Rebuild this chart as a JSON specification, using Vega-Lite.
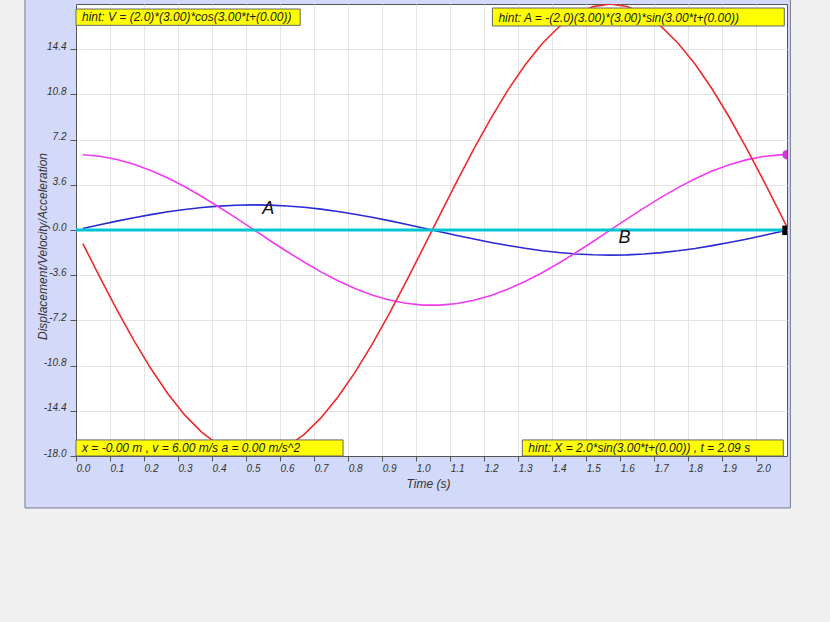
{
  "$schema": "https://vega.github.io/schema/vega-lite/v6.json",
  "width": 711,
  "height": 452,
  "autosize": {"type": "none"},
  "padding": {"left": 76, "top": 4, "right": 43, "bottom": 166},
  "background": "#d3d9f9",
  "config": {
    "view": {"fill": "#ffffff", "stroke": "#555555", "strokeWidth": 1},
    "font": "Liberation Sans",
    "axisX": {
      "grid": true, "gridColor": "#e4e4e4",
      "domainColor": "#555555", "tickColor": "#555555", "tickSize": 5,
      "labelAlign": "left", "labelDx": 3, "labelPadding": 2, "labelFlush": false, "labelOverlap": false,
      "labelFontSize": 10, "labelFontStyle": "italic", "labelColor": "#333333",
      "titleFontSize": 12, "titleFontWeight": "normal", "titleFontStyle": "italic", "titleColor": "#333333",
      "titleBaseline": "middle", "titleAlign": "center"
    },
    "axisY": {
      "grid": true, "gridColor": "#e4e4e4",
      "domainColor": "#555555", "tickColor": "#555555", "tickSize": 6,
      "labelPadding": 4, "labelBaseline": "alphabetic", "labelFlush": false, "labelOverlap": false,
      "labelFontSize": 10, "labelFontStyle": "italic", "labelColor": "#333333",
      "titleFontSize": 12, "titleFontWeight": "normal", "titleFontStyle": "italic", "titleColor": "#333333",
      "titleBaseline": "middle", "titleAlign": "center"
    }
  },
  "datasets": {
    "curve": [
      {"t": 0.02, "x": 0.120, "v": 5.989, "a": -1.079},
      {"t": 0.07, "x": 0.417, "v": 5.868, "a": -3.752},
      {"t": 0.12, "x": 0.705, "v": 5.615, "a": -6.341},
      {"t": 0.17, "x": 0.976, "v": 5.236, "a": -8.787},
      {"t": 0.22, "x": 1.226, "v": 4.740, "a": -11.036},
      {"t": 0.27, "x": 1.449, "v": 4.137, "a": -13.037},
      {"t": 0.32, "x": 1.638, "v": 3.441, "a": -14.745},
      {"t": 0.37, "x": 1.791, "v": 2.668, "a": -16.122},
      {"t": 0.42, "x": 1.904, "v": 1.835, "a": -17.138},
      {"t": 0.47, "x": 1.974, "v": 0.961, "a": -17.768},
      {"t": 0.52, "x": 2.000, "v": 0.065, "a": -17.999},
      {"t": 0.57, "x": 1.981, "v": -0.833, "a": -17.826},
      {"t": 0.62, "x": 1.917, "v": -1.711, "a": -17.252},
      {"t": 0.67, "x": 1.810, "v": -2.551, "a": -16.292},
      {"t": 0.72, "x": 1.663, "v": -3.334, "a": -14.965},
      {"t": 0.77, "x": 1.478, "v": -4.042, "a": -13.303},
      {"t": 0.82, "x": 1.260, "v": -4.659, "a": -11.340},
      {"t": 0.87, "x": 1.014, "v": -5.172, "a": -9.123},
      {"t": 0.92, "x": 0.744, "v": -5.569, "a": -6.696},
      {"t": 0.97, "x": 0.459, "v": -5.840, "a": -4.128},
      {"t": 1.02, "x": 0.163, "v": -5.980, "a": -1.467},
      {"t": 1.07, "x": -0.137, "v": -5.986, "a": 1.230},
      {"t": 1.12, "x": -0.433, "v": -5.857, "a": 3.900},
      {"t": 1.17, "x": -0.720, "v": -5.597, "a": 6.483},
      {"t": 1.22, "x": -0.991, "v": -5.212, "a": 8.918},
      {"t": 1.27, "x": -1.240, "v": -4.708, "a": 11.157},
      {"t": 1.32, "x": -1.460, "v": -4.101, "a": 13.141},
      {"t": 1.37, "x": -1.648, "v": -3.400, "a": 14.831},
      {"t": 1.42, "x": -1.798, "v": -2.625, "a": 16.186},
      {"t": 1.47, "x": -1.909, "v": -1.788, "a": 17.183},
      {"t": 1.52, "x": -1.977, "v": -0.913, "a": 17.791},
      {"t": 1.57, "x": -2.000, "v": -0.014, "a": 18.000},
      {"t": 1.62, "x": -1.978, "v": 0.885, "a": 17.803},
      {"t": 1.67, "x": -1.912, "v": 1.760, "a": 17.208},
      {"t": 1.72, "x": -1.803, "v": 2.600, "a": 16.223},
      {"t": 1.77, "x": -1.653, "v": 3.377, "a": 14.878},
      {"t": 1.82, "x": -1.467, "v": 4.080, "a": 13.199},
      {"t": 1.87, "x": -1.247, "v": 4.690, "a": 11.226},
      {"t": 1.92, "x": -1.000, "v": 5.196, "a": 9.000},
      {"t": 1.97, "x": -0.730, "v": 5.586, "a": 6.570},
      {"t": 2.02, "x": -0.444, "v": 5.850, "a": 3.995},
      {"t": 2.07, "x": -0.146, "v": 5.984, "a": 1.316},
      {"t": 2.09, "x": -0.026, "v": 5.999, "a": 0.237}
    ],
    "notes": [
      {"note": "hint: V = (2.0)*(3.00)*cos(3.00*t+(0.00))", "t1": 0, "t2": 0.659, "v1": 16.3, "v2": 17.6},
      {"note": "hint: A = -(2.0)(3.00)*(3.00)*sin(3.00*t+(0.00))", "t1": 1.224, "t2": 2.082, "v1": 16.25, "v2": 17.68},
      {"note": "x = -0.00 m , v = 6.00 m/s a = 0.00 m/s^2", "t1": 0, "t2": 0.785, "v1": -18, "v2": -16.72},
      {"note": "hint: X = 2.0*sin(3.00*t+(0.00)) , t = 2.09 s", "t1": 1.312, "t2": 2.079, "v1": -18, "v2": -16.72}
    ],
    "labels": [
      {"name": "A", "t": 0.565, "v": 1.7},
      {"name": "B", "t": 1.612, "v": -0.67}
    ]
  },
  "layer": [
    {
      "data": {"name": "curve"},
      "mark": {"type": "line", "color": "#2a2ad4", "strokeWidth": 1.6, "clip": true},
      "encoding": {
        "x": {"field": "t", "type": "quantitative", "scale": {"domain": [0, 2.09], "nice": false, "zero": false},
          "axis": {"values": [0, 0.1, 0.2, 0.3, 0.4, 0.5, 0.6, 0.7, 0.8, 0.9, 1.0, 1.1, 1.2, 1.3, 1.4, 1.5, 1.6, 1.7, 1.8, 1.9, 2.0], "format": ".1f", "title": "Time (s)", "titleX": 352, "titleY": 27}},
        "y": {"field": "x", "type": "quantitative", "scale": {"domain": [-18, 18], "nice": false, "zero": false},
          "axis": {"values": [-18, -14.4, -10.8, -7.2, -3.6, 0, 3.6, 7.2, 10.8, 14.4], "format": ".1f", "labelExpr": "replace(datum.label, '\u2212', '-')", "title": "Displacement/Velocity/Acceleration", "titleAngle": 270, "titleX": -34, "titleY": 242}}
      }
    },
    {
      "data": {"name": "curve"},
      "mark": {"type": "line", "color": "#f03cf0", "strokeWidth": 1.6, "clip": true},
      "encoding": {
        "x": {"field": "t", "type": "quantitative", "scale": {"domain": [0, 2.09], "nice": false, "zero": false},
          "axis": {"values": [0, 0.1, 0.2, 0.3, 0.4, 0.5, 0.6, 0.7, 0.8, 0.9, 1.0, 1.1, 1.2, 1.3, 1.4, 1.5, 1.6, 1.7, 1.8, 1.9, 2.0], "format": ".1f", "title": "Time (s)", "titleX": 352, "titleY": 27}},
        "y": {"field": "v", "type": "quantitative", "scale": {"domain": [-18, 18], "nice": false, "zero": false},
          "axis": {"values": [-18, -14.4, -10.8, -7.2, -3.6, 0, 3.6, 7.2, 10.8, 14.4], "format": ".1f", "labelExpr": "replace(datum.label, '\u2212', '-')", "title": "Displacement/Velocity/Acceleration", "titleAngle": 270, "titleX": -34, "titleY": 242}}
      }
    },
    {
      "data": {"name": "curve"},
      "mark": {"type": "line", "color": "#ee2a2a", "strokeWidth": 1.6, "clip": true},
      "encoding": {
        "x": {"field": "t", "type": "quantitative", "scale": {"domain": [0, 2.09], "nice": false, "zero": false},
          "axis": {"values": [0, 0.1, 0.2, 0.3, 0.4, 0.5, 0.6, 0.7, 0.8, 0.9, 1.0, 1.1, 1.2, 1.3, 1.4, 1.5, 1.6, 1.7, 1.8, 1.9, 2.0], "format": ".1f", "title": "Time (s)", "titleX": 352, "titleY": 27}},
        "y": {"field": "a", "type": "quantitative", "scale": {"domain": [-18, 18], "nice": false, "zero": false},
          "axis": {"values": [-18, -14.4, -10.8, -7.2, -3.6, 0, 3.6, 7.2, 10.8, 14.4], "format": ".1f", "labelExpr": "replace(datum.label, '\u2212', '-')", "title": "Displacement/Velocity/Acceleration", "titleAngle": 270, "titleX": -34, "titleY": 242}}
      }
    },
    {
      "data": {"values": [{}]},
      "mark": {"type": "rule", "color": "#00c4d4", "strokeWidth": 3, "clip": true},
      "encoding": {
        "y": {"datum": 0, "type": "quantitative", "scale": {"domain": [-18, 18], "nice": false, "zero": false},
          "axis": {"values": [-18, -14.4, -10.8, -7.2, -3.6, 0, 3.6, 7.2, 10.8, 14.4], "format": ".1f", "labelExpr": "replace(datum.label, '\u2212', '-')", "title": "Displacement/Velocity/Acceleration", "titleAngle": 270, "titleX": -34, "titleY": 242}}
      }
    },
    {
      "data": {"name": "curve"},
      "transform": [{"filter": "datum.t == 2.09"}],
      "mark": {"type": "point", "shape": "circle", "filled": true, "color": "#d63ad6", "size": 90, "opacity": 1, "clip": true},
      "encoding": {
        "x": {"field": "t", "type": "quantitative", "scale": {"domain": [0, 2.09], "nice": false, "zero": false},
          "axis": {"values": [0, 0.1, 0.2, 0.3, 0.4, 0.5, 0.6, 0.7, 0.8, 0.9, 1.0, 1.1, 1.2, 1.3, 1.4, 1.5, 1.6, 1.7, 1.8, 1.9, 2.0], "format": ".1f", "title": "Time (s)", "titleX": 352, "titleY": 27}},
        "y": {"field": "v", "type": "quantitative", "scale": {"domain": [-18, 18], "nice": false, "zero": false},
          "axis": {"values": [-18, -14.4, -10.8, -7.2, -3.6, 0, 3.6, 7.2, 10.8, 14.4], "format": ".1f", "labelExpr": "replace(datum.label, '\u2212', '-')", "title": "Displacement/Velocity/Acceleration", "titleAngle": 270, "titleX": -34, "titleY": 242}}
      }
    },
    {
      "data": {"name": "curve"},
      "transform": [{"filter": "datum.t == 2.09"}],
      "mark": {"type": "point", "shape": "square", "filled": true, "color": "#000000", "size": 90, "opacity": 1, "clip": true},
      "encoding": {
        "x": {"field": "t", "type": "quantitative", "scale": {"domain": [0, 2.09], "nice": false, "zero": false},
          "axis": {"values": [0, 0.1, 0.2, 0.3, 0.4, 0.5, 0.6, 0.7, 0.8, 0.9, 1.0, 1.1, 1.2, 1.3, 1.4, 1.5, 1.6, 1.7, 1.8, 1.9, 2.0], "format": ".1f", "title": "Time (s)", "titleX": 352, "titleY": 27}},
        "y": {"field": "x", "type": "quantitative", "scale": {"domain": [-18, 18], "nice": false, "zero": false},
          "axis": {"values": [-18, -14.4, -10.8, -7.2, -3.6, 0, 3.6, 7.2, 10.8, 14.4], "format": ".1f", "labelExpr": "replace(datum.label, '\u2212', '-')", "title": "Displacement/Velocity/Acceleration", "titleAngle": 270, "titleX": -34, "titleY": 242}}
      }
    },
    {
      "data": {"name": "notes"},
      "mark": {"type": "rect", "fill": "#ffff00", "stroke": "#666666", "strokeWidth": 1},
      "encoding": {
        "x": {"field": "t1", "type": "quantitative", "scale": {"domain": [0, 2.09], "nice": false, "zero": false},
          "axis": {"values": [0, 0.1, 0.2, 0.3, 0.4, 0.5, 0.6, 0.7, 0.8, 0.9, 1.0, 1.1, 1.2, 1.3, 1.4, 1.5, 1.6, 1.7, 1.8, 1.9, 2.0], "format": ".1f", "title": "Time (s)", "titleX": 352, "titleY": 27}},
        "x2": {"field": "t2"},
        "y": {"field": "v1", "type": "quantitative", "scale": {"domain": [-18, 18], "nice": false, "zero": false},
          "axis": {"values": [-18, -14.4, -10.8, -7.2, -3.6, 0, 3.6, 7.2, 10.8, 14.4], "format": ".1f", "labelExpr": "replace(datum.label, '\u2212', '-')", "title": "Displacement/Velocity/Acceleration", "titleAngle": 270, "titleX": -34, "titleY": 242}},
        "y2": {"field": "v2"}
      }
    },
    {
      "data": {"name": "notes"},
      "mark": {"type": "text", "align": "left", "baseline": "alphabetic", "dx": 6, "dy": -4, "fontSize": 12, "fontStyle": "italic", "color": "#222222"},
      "encoding": {
        "x": {"field": "t1", "type": "quantitative", "scale": {"domain": [0, 2.09], "nice": false, "zero": false},
          "axis": {"values": [0, 0.1, 0.2, 0.3, 0.4, 0.5, 0.6, 0.7, 0.8, 0.9, 1.0, 1.1, 1.2, 1.3, 1.4, 1.5, 1.6, 1.7, 1.8, 1.9, 2.0], "format": ".1f", "title": "Time (s)", "titleX": 352, "titleY": 27}},
        "y": {"field": "v1", "type": "quantitative", "scale": {"domain": [-18, 18], "nice": false, "zero": false},
          "axis": {"values": [-18, -14.4, -10.8, -7.2, -3.6, 0, 3.6, 7.2, 10.8, 14.4], "format": ".1f", "labelExpr": "replace(datum.label, '\u2212', '-')", "title": "Displacement/Velocity/Acceleration", "titleAngle": 270, "titleX": -34, "titleY": 242}},
        "text": {"field": "note"}
      }
    },
    {
      "data": {"name": "labels"},
      "mark": {"type": "text", "align": "center", "baseline": "middle", "fontSize": 18, "fontStyle": "italic", "color": "#111111"},
      "encoding": {
        "x": {"field": "t", "type": "quantitative", "scale": {"domain": [0, 2.09], "nice": false, "zero": false},
          "axis": {"values": [0, 0.1, 0.2, 0.3, 0.4, 0.5, 0.6, 0.7, 0.8, 0.9, 1.0, 1.1, 1.2, 1.3, 1.4, 1.5, 1.6, 1.7, 1.8, 1.9, 2.0], "format": ".1f", "title": "Time (s)", "titleX": 352, "titleY": 27}},
        "y": {"field": "v", "type": "quantitative", "scale": {"domain": [-18, 18], "nice": false, "zero": false},
          "axis": {"values": [-18, -14.4, -10.8, -7.2, -3.6, 0, 3.6, 7.2, 10.8, 14.4], "format": ".1f", "labelExpr": "replace(datum.label, '\u2212', '-')", "title": "Displacement/Velocity/Acceleration", "titleAngle": 270, "titleX": -34, "titleY": 242}},
        "text": {"field": "name"}
      }
    },
    {
      "data": {"values": [{}]},
      "mark": {"type": "rect", "fill": "#f0f0f0", "clip": false},
      "encoding": {
        "x": {"datum": -0.5, "type": "quantitative",
          "axis": {"values": [0, 0.1, 0.2, 0.3, 0.4, 0.5, 0.6, 0.7, 0.8, 0.9, 1.0, 1.1, 1.2, 1.3, 1.4, 1.5, 1.6, 1.7, 1.8, 1.9, 2.0], "format": ".1f", "title": "Time (s)", "titleX": 352, "titleY": 27}},
        "x2": {"datum": 2.5},
        "y": {"datum": -22.14, "type": "quantitative",
          "axis": {"values": [-18, -14.4, -10.8, -7.2, -3.6, 0, 3.6, 7.2, 10.8, 14.4], "format": ".1f", "labelExpr": "replace(datum.label, '\u2212', '-')", "title": "Displacement/Velocity/Acceleration", "titleAngle": 270, "titleX": -34, "titleY": 242}},
        "y2": {"datum": -40}
      }
    },
    {
      "data": {"values": [{}]},
      "mark": {"type": "rect", "fill": "#f0f0f0", "clip": false},
      "encoding": {
        "x": {"datum": -0.5, "type": "quantitative",
          "axis": {"values": [0, 0.1, 0.2, 0.3, 0.4, 0.5, 0.6, 0.7, 0.8, 0.9, 1.0, 1.1, 1.2, 1.3, 1.4, 1.5, 1.6, 1.7, 1.8, 1.9, 2.0], "format": ".1f", "title": "Time (s)", "titleX": 352, "titleY": 27}},
        "x2": {"datum": -0.15},
        "y": {"datum": -40, "type": "quantitative",
          "axis": {"values": [-18, -14.4, -10.8, -7.2, -3.6, 0, 3.6, 7.2, 10.8, 14.4], "format": ".1f", "labelExpr": "replace(datum.label, '\u2212', '-')", "title": "Displacement/Velocity/Acceleration", "titleAngle": 270, "titleX": -34, "titleY": 242}},
        "y2": {"datum": 20}
      }
    },
    {
      "data": {"values": [{}]},
      "mark": {"type": "rect", "fill": "#f0f0f0", "clip": false},
      "encoding": {
        "x": {"datum": 2.1, "type": "quantitative",
          "axis": {"values": [0, 0.1, 0.2, 0.3, 0.4, 0.5, 0.6, 0.7, 0.8, 0.9, 1.0, 1.1, 1.2, 1.3, 1.4, 1.5, 1.6, 1.7, 1.8, 1.9, 2.0], "format": ".1f", "title": "Time (s)", "titleX": 352, "titleY": 27}},
        "x2": {"datum": 2.5},
        "y": {"datum": -40, "type": "quantitative",
          "axis": {"values": [-18, -14.4, -10.8, -7.2, -3.6, 0, 3.6, 7.2, 10.8, 14.4], "format": ".1f", "labelExpr": "replace(datum.label, '\u2212', '-')", "title": "Displacement/Velocity/Acceleration", "titleAngle": 270, "titleX": -34, "titleY": 242}},
        "y2": {"datum": 20}
      }
    },
    {
      "data": {"values": [{}]},
      "mark": {"type": "rect", "fill": "transparent", "stroke": "#7a7a8a", "strokeWidth": 1, "clip": false},
      "encoding": {
        "x": {"datum": -0.15, "type": "quantitative",
          "axis": {"values": [0, 0.1, 0.2, 0.3, 0.4, 0.5, 0.6, 0.7, 0.8, 0.9, 1.0, 1.1, 1.2, 1.3, 1.4, 1.5, 1.6, 1.7, 1.8, 1.9, 2.0], "format": ".1f", "title": "Time (s)", "titleX": 352, "titleY": 27}},
        "x2": {"datum": 2.1},
        "y": {"datum": -22.14, "type": "quantitative",
          "axis": {"values": [-18, -14.4, -10.8, -7.2, -3.6, 0, 3.6, 7.2, 10.8, 14.4], "format": ".1f", "labelExpr": "replace(datum.label, '\u2212', '-')", "title": "Displacement/Velocity/Acceleration", "titleAngle": 270, "titleX": -34, "titleY": 242}},
        "y2": {"datum": 18.6}
      }
    }
  ]
}
